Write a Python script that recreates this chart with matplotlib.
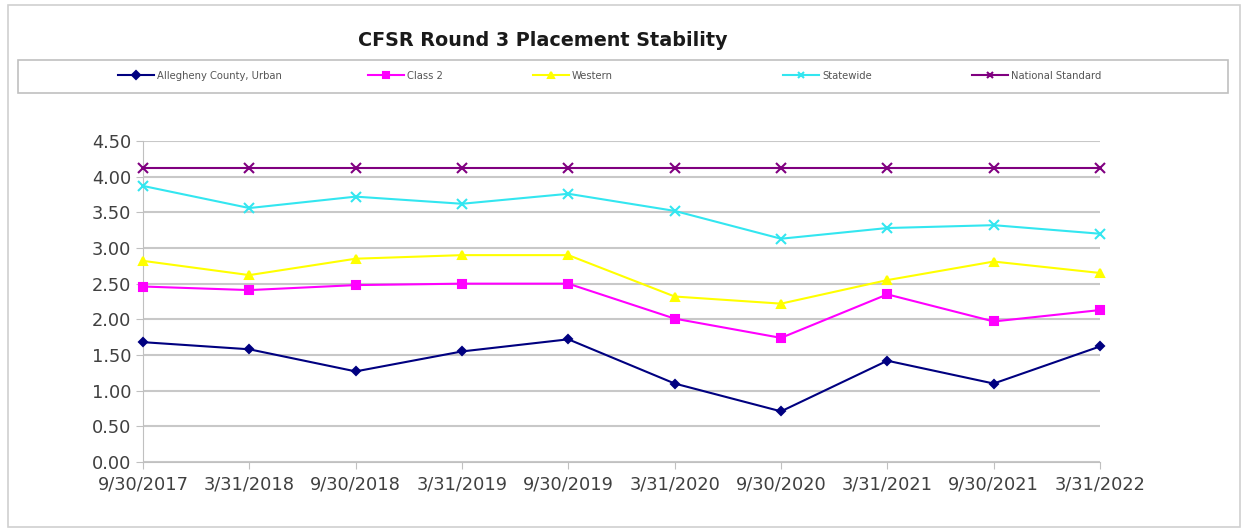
import matplotlib.pyplot as plt
from matplotlib.patches import Rectangle

# datos
fechas = ["9/30/2017", "3/31/2018", "9/30/2018", "3/31/2019", "9/30/2019",
          "3/31/2020", "9/30/2020", "3/31/2021", "9/30/2021", "3/31/2022"]
allegheny = [1.68, 1.58, 1.27, 1.55, 1.72, 1.10, 0.71, 1.42, 1.10, 1.62]
class2 = [2.46, 2.41, 2.48, 2.50, 2.50, 2.01, 1.74, 2.35, 1.97, 2.13]
western = [2.82, 2.62, 2.85, 2.90, 2.90, 2.32, 2.22, 2.55, 2.81, 2.65]
statewide = [3.87, 3.56, 3.72, 3.62, 3.76, 3.52, 3.13, 3.28, 3.32, 3.20]
national = [4.12] * 10

W, H = 1243, 531
fig = plt.figure(figsize=(W / 100, H / 100), dpi=100)
ax = fig.add_axes([143 / W, 1 - 462 / H, (1100 - 143) / W, (462 - 141) / H])

x = range(len(fechas))
series = [
    ("Allegheny County, Urban", allegheny, "#000080", "D", 4.5),
    ("Class 2", class2, "#FF00FF", "s", 5.5),
    ("Western", western, "#FFFF00", "^", 5.5),
    ("Statewide", statewide, "#33E6F0", "x", 7),
    ("National Standard", national, "#800080", "x", 7),
]
lineas = []
for nombre, vals, color, mk, ms in series:
    l, = ax.plot(x, vals, color=color, marker=mk, markersize=ms, linewidth=1.5,
                 markeredgewidth=1.5, label=nombre, clip_on=False, zorder=3)
    lineas.append(l)

ax.set_xlim(0, 9)
ax.set_ylim(0, 4.5)
ax.set_yticks([i * 0.5 for i in range(10)])
ax.set_yticklabels([f"{i * 0.5:.2f}" for i in range(10)])
ax.set_xticks(list(x))
ax.set_xticklabels(fechas)
ax.grid(axis="y", color="#c8c8c8", linewidth=1.5)
ax.set_axisbelow(True)
for lado in ["top", "right"]:
    ax.spines[lado].set_visible(False)
ax.spines["left"].set_color("#c0c0c0")
ax.spines["bottom"].set_color("#c0c0c0")
ax.tick_params(axis="both", colors="#c0c0c0", labelcolor="#404040", labelsize=12.8, length=5)
ax.tick_params(axis="x", pad=5)

# titulo
fig.text(543 / W, 1 - 40 / H, "CFSR Round 3 Placement Stability", ha="center", va="center",
         fontsize=13.8, fontweight="bold", color="#1a1a1a")

# caja de la leyenda y una entrada por serie
fig.patches.append(Rectangle((18 / W, 1 - 93 / H), 1210 / W, 33 / H, transform=fig.transFigure,
                             fill=False, edgecolor="#c0c0c0", linewidth=1.2))
pos_leyenda = [118, 368, 533, 783, 972]
for l, px in zip(lineas, pos_leyenda):
    leg = fig.legend([l], [l.get_label()], loc="center left", bbox_to_anchor=(px / W, 1 - 76 / H),
                     fontsize=7.2, frameon=False, handlelength=3.6, borderaxespad=0,
                     borderpad=0, handletextpad=0.3, labelcolor="#555555")
    for h in leg.legend_handles:
        h.set_markersize(4)

# marco exterior
fig.patches.append(Rectangle((8 / W, 4 / H), 1232 / W, 522 / H, transform=fig.transFigure,
                             fill=False, edgecolor="#d0d0d0", linewidth=1.2))

fig.savefig("out.png", dpi=100)
